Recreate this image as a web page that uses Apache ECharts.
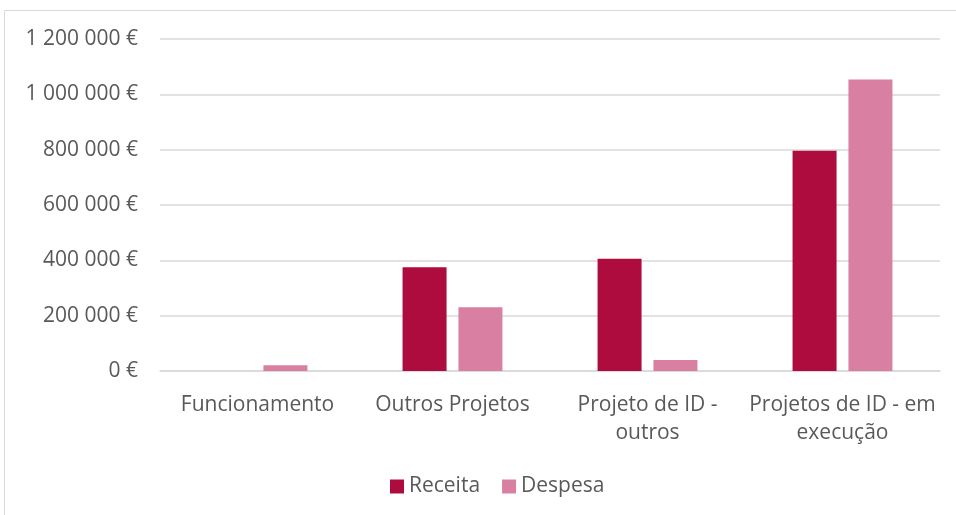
<!DOCTYPE html>
<html>
<head>
<meta charset="utf-8">
<script src="https://cdn.jsdelivr.net/npm/echarts@6/dist/echarts.min.js"></script>
<style>
  html, body { margin: 0; padding: 0; background: #fff; }
  #chart { width: 956px; height: 515px; }
</style>
</head>
<body>
<div id="chart"></div>
<script>
  var categories = ['Funcionamento', 'Outros Projetos', 'Projeto de ID -\noutros', 'Projetos de ID - em\nexecução'];
  var receita = [0, 375000, 406000, 796000];
  var despesa = [21000, 230000, 40000, 1054000];

  var myChart = echarts.init(document.getElementById('chart'));

  function euro(v) {
    return String(v).replace(/\B(?=(\d{3})+(?!\d))/g, ' ') + ' €';
  }

  var option = {
    animation: false,
    textStyle: { fontFamily: 'Open Sans' },
    graphic: [{
      type: 'rect',
      shape: { x: 4.5, y: 10.5, width: 960, height: 520 },
      style: { fill: 'none', stroke: '#d9d9d9', lineWidth: 1 }
    }],
    grid: { left: 160, right: 16, top: 39, bottom: 144 },
    legend: {
      top: 471,
      left: 385,
      itemWidth: 14,
      itemHeight: 14,
      itemGap: 22,
      icon: 'rect',
      textStyle: { fontSize: 21, color: '#595959', fontFamily: 'Open Sans' },
      data: ['Receita', 'Despesa']
    },
    xAxis: {
      type: 'category',
      data: categories,
      axisLine: { lineStyle: { color: '#d9d9d9', width: 1.5 } },
      axisTick: { show: false },
      axisLabel: {
        fontSize: 21, color: '#595959', margin: 20, lineHeight: 28, interval: 0
      }
    },
    yAxis: {
      type: 'value',
      min: 0,
      max: 1200000,
      interval: 200000,
      axisLine: { show: false },
      axisTick: { show: false },
      splitLine: { lineStyle: { color: '#d9d9d9', width: 1.5 } },
      axisLabel: {
        fontSize: 21, color: '#595959', margin: 22,
        formatter: euro
      }
    },
    series: [
      {
        name: 'Receita',
        type: 'bar',
        data: receita,
        barWidth: 44,
        barGap: '27%',
        itemStyle: { color: '#ae0c3e' }
      },
      {
        name: 'Despesa',
        type: 'bar',
        data: despesa,
        barWidth: 44,
        itemStyle: { color: '#d97fa2' }
      }
    ]
  };

  myChart.setOption(option);
</script>
</body>
</html>
